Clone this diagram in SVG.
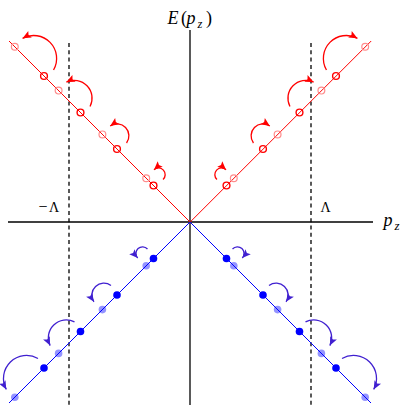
<svg xmlns="http://www.w3.org/2000/svg" width="407" height="411" viewBox="0 0 407 411">
<style>
.ax{stroke:#000;stroke-width:1.3;fill:none}
.dash{stroke:#000;stroke-width:1.3;stroke-dasharray:4 3.3;fill:none}
.rl{stroke:#ff0000;stroke-width:1;fill:none}
.bl{stroke:#0000ff;stroke-width:1;fill:none}
.rd{stroke:#ff0000;stroke-width:1.4;fill:none}
.rp{stroke:#ff8c8c;stroke-width:1.2;fill:none}
.bd{fill:#0000ff;stroke:none}
.bp{fill:#0000ff;fill-opacity:0.42;stroke:none}
.ra{stroke:#ff0000;stroke-width:1.3;fill:none;marker-end:url(#ah-r)}
.ba{stroke:#4020d0;stroke-width:1.3;fill:none;marker-end:url(#ah-b)}
.t{font-family:"Liberation Serif","Times New Roman",serif;fill:#000}
.i{font-style:italic}
</style>
<defs>
<marker id="ah-r" markerUnits="userSpaceOnUse" viewBox="-9 -5 10 10" refX="0" refY="0" markerWidth="10" markerHeight="10" orient="auto">
<path d="M0,0 L-8.5,-3.7 L-6.8,0 L-8.5,3.7 Z" fill="#ff0000"/>
</marker>
<marker id="ah-b" markerUnits="userSpaceOnUse" viewBox="-9 -5 10 10" refX="0" refY="0" markerWidth="10" markerHeight="10" orient="auto">
<path d="M0,0 L-8.5,-3.7 L-6.8,0 L-8.5,3.7 Z" fill="#4020d0"/>
</marker>
</defs>
<g id="axes">
<line class="ax" x1="8" y1="222" x2="373" y2="222"/>
<line class="ax" x1="190" y1="30" x2="190" y2="405"/>
<line class="dash" x1="69" y1="43" x2="69" y2="405"/>
<line class="dash" x1="311" y1="43" x2="311" y2="405"/>
</g>
<g id="branches">
<path class="rl" d="M9,41 L190,222"/>
<path class="rl" d="M190.2,222 L371.2,41"/>
<path class="bl" d="M9,403 L190,222 L371,403"/>
</g>
<g id="red-states">
<circle class="rp" cx="146.2" cy="178.2" r="3.4"/>
<circle class="rp" cx="102.4" cy="134.4" r="3.4"/>
<circle class="rp" cx="58.6" cy="90.6" r="3.4"/>
<circle class="rp" cx="14.8" cy="46.8" r="3.4"/>
<circle class="rp" cx="233.8" cy="178.2" r="3.4"/>
<circle class="rp" cx="277.6" cy="134.4" r="3.4"/>
<circle class="rp" cx="321.4" cy="90.6" r="3.4"/>
<circle class="rp" cx="365.2" cy="46.8" r="3.4"/>
<circle class="rd" cx="153.5" cy="185.5" r="3.4"/>
<circle class="rd" cx="117" cy="149" r="3.4"/>
<circle class="rd" cx="80.5" cy="112.5" r="3.4"/>
<circle class="rd" cx="44" cy="76" r="3.4"/>
<circle class="rd" cx="226.5" cy="185.5" r="3.4"/>
<circle class="rd" cx="263" cy="149" r="3.4"/>
<circle class="rd" cx="299.5" cy="112.5" r="3.4"/>
<circle class="rd" cx="336" cy="76" r="3.4"/>
</g>
<g id="blue-states">
<circle class="bp" cx="146.2" cy="265.8" r="3.8"/>
<circle class="bp" cx="102.4" cy="309.6" r="3.8"/>
<circle class="bp" cx="58.6" cy="353.4" r="3.8"/>
<circle class="bp" cx="14.8" cy="397.2" r="3.8"/>
<circle class="bp" cx="233.8" cy="265.8" r="3.8"/>
<circle class="bp" cx="277.6" cy="309.6" r="3.8"/>
<circle class="bp" cx="321.4" cy="353.4" r="3.8"/>
<circle class="bp" cx="365.2" cy="397.2" r="3.8"/>
<circle class="bd" cx="153.5" cy="258.5" r="3.8"/>
<circle class="bd" cx="117" cy="295" r="3.8"/>
<circle class="bd" cx="80.5" cy="331.5" r="3.8"/>
<circle class="bd" cx="44" cy="368" r="3.8"/>
<circle class="bd" cx="226.5" cy="258.5" r="3.8"/>
<circle class="bd" cx="263" cy="295" r="3.8"/>
<circle class="bd" cx="299.5" cy="331.5" r="3.8"/>
<circle class="bd" cx="336" cy="368" r="3.8"/>
</g>
<g id="connectors">
<path class="ra" d="M163.05,179.49 A6,6 0 0 0 153.98,169.72"/>
<path class="ra" d="M126.55,142.99 A12,12 0 0 0 110.18,125.92"/>
<path class="ra" d="M90.05,106.49 A17.9,17.9 0 0 0 66.38,82.12"/>
<path class="ra" d="M53.55,69.99 A23,23 0 0 0 22.58,38.32"/>
<path class="ra" d="M216.95,179.49 A6,6 0 0 1 226.02,169.72"/>
<path class="ra" d="M253.45,142.99 A12,12 0 0 1 269.82,125.92"/>
<path class="ra" d="M289.95,106.49 A17.9,17.9 0 0 1 313.62,82.12"/>
<path class="ra" d="M326.45,69.99 A23,23 0 0 1 357.42,38.32"/>
<path class="ba" d="M147.49,248.95 A6,6 0 0 0 137.72,258.02"/>
<path class="ba" d="M110.99,285.45 A12,12 0 0 0 93.92,301.82"/>
<path class="ba" d="M74.49,321.95 A17.9,17.9 0 0 0 50.12,345.62"/>
<path class="ba" d="M37.99,358.45 A23,23 0 0 0 6.32,389.42"/>
<path class="ba" d="M232.51,248.95 A6,6 0 0 1 242.28,258.02"/>
<path class="ba" d="M269.01,285.45 A12,12 0 0 1 286.08,301.82"/>
<path class="ba" d="M305.51,321.95 A17.9,17.9 0 0 1 329.88,345.62"/>
<path class="ba" d="M342.01,358.45 A23,23 0 0 1 373.68,389.42"/>
</g>
<g id="labels">
<text class="t i" font-size="18" x="167.5" y="24">E</text>
<text class="t" font-size="18" x="181" y="24">(</text>
<text class="t i" font-size="18" x="186.5" y="24">p</text>
<text class="t i" font-size="12.5" x="197.5" y="28">z</text>
<text class="t" font-size="18" x="206" y="24">)</text>
<text class="t" font-size="16" x="38.5" y="212">−</text>
<text class="t" font-size="14" x="49" y="212">Λ</text>
<text class="t" font-size="14" x="320.5" y="212">Λ</text>
<text class="t i" font-size="18" x="383.5" y="226">p</text>
<text class="t i" font-size="13" x="394.5" y="230">z</text>
</g>
</svg>
